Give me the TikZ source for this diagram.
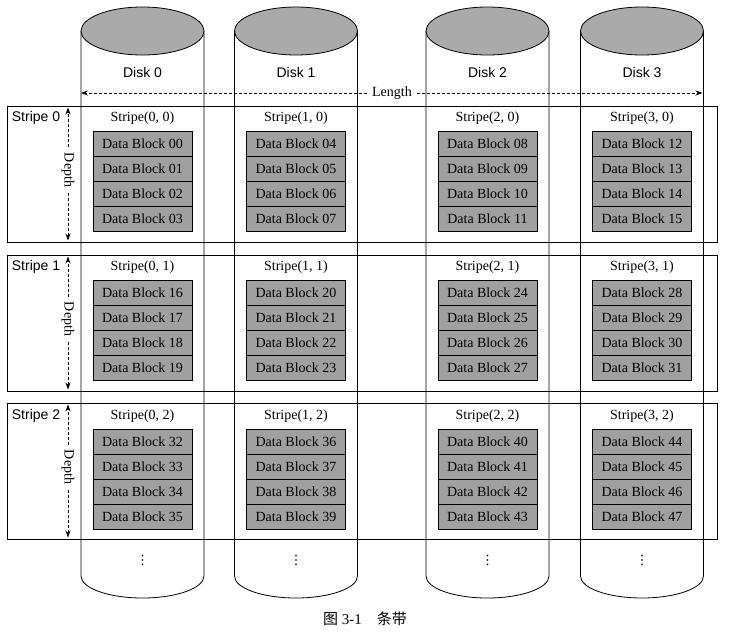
\documentclass[tikz,border=0pt]{standalone}
\usepackage{fontspec}
\setmainfont{Liberation Serif}
\setsansfont{Liberation Sans}
\newfontfamily\cjk{Noto Sans CJK SC}
\newfontfamily\symfont{DejaVu Sans}
\usetikzlibrary{arrows.meta,shapes.geometric}
\definecolor{diskgray}{HTML}{AAAAAA}
\definecolor{blockgray}{HTML}{A0A0A0}
\begin{document}
\begin{tikzpicture}[x=1pt,y=-1pt, line width=0.8pt,
  lbl/.style={font=\fontsize{14}{16}\selectfont\sffamily, inner sep=1pt},
  txt/.style={font=\fontsize{14}{16}\selectfont, inner sep=1pt},
  blk/.style={draw, fill=blockgray, minimum width=99pt, minimum height=25pt, inner sep=0pt, font=\fontsize{14}{16}\selectfont},
  disktop/.style={draw, ellipse, fill=diskgray, minimum width=123pt, minimum height=48pt, inner sep=0pt},
  dimline/.style={densely dashed, line width=0.7pt, -{Stealth[length=7pt,width=5pt]}}]
\useasboundingbox (0,0) rectangle (729,633);

% stripe boxes
\foreach \j/\t/\b in {0/106/242, 1/255/391, 2/403/539}{
  \draw (7,\t) rectangle (717,\b);
}

% cylinders
\foreach \i/\cx in {0/142.5, 1/296, 2/487.5, 3/642}{
  \draw (\cx-61.5,31) -- (\cx-61.5,576)
     .. controls (\cx-61.5,588.15) and (\cx-33.97,598) .. (\cx,598)
     .. controls (\cx+33.97,598) and (\cx+61.5,588.15) .. (\cx+61.5,576)
     -- (\cx+61.5,31);
  \node[disktop] (top\i) at (\cx,31) {};
  \node[lbl] (disk\i) at (\cx,72) {Disk \i};
  \node[font=\fontsize{13}{15}\selectfont\symfont, inner sep=0pt] (dots\i) at (\cx,560) {⋮};
}

% length dimension
\coordinate (lenL) at (81,93);
\coordinate (lenR) at (702.5,93);
\node[txt, inner xsep=5pt] (len) at (392,93) {Length};
\draw[dimline] (len.west) -- (lenL);
\draw[dimline] (len.east) -- (lenR);

% stripes
\foreach \j/\t/\b/\ly in {0/106/242/118, 1/255/391/267, 2/403/539/416}{
  \node[lbl] (slbl\j) at (36,\ly) {Stripe \j};
  \coordinate (dtop\j) at (68,\t+1.5);
  \coordinate (dbot\j) at (68,\b-1.5);
  \node[txt, rotate=-90, inner xsep=5pt] (depth\j) at (68,{(\t+\b)/2-4}) {Depth};
  \draw[dimline] (depth\j.west) -- (dtop\j);
  \draw[dimline] (depth\j.east) -- (dbot\j);
  \foreach \i/\cx in {0/142.5, 1/296, 2/487.5, 3/642}{
    \node[txt] (sl\i\j) at (\cx,\ly) {Stripe(\i, \j)};
    \foreach \k in {0,1,2,3}{
      \pgfmathtruncatemacro{\n}{\j*16+\i*4+\k}
      \node[blk] (b\i\j\k) at (\cx,{\ly+25.5+\k*25}) {Data Block \ifnum\n<10 0\fi\n};
    }
  }
}

% caption
\node[font=\fontsize{15}{18}\selectfont, inner sep=0pt] (cap) at (365,619) {{\cjk 图}~3-1\hspace{1em}{\cjk 条带}};
\end{tikzpicture}
\end{document}
